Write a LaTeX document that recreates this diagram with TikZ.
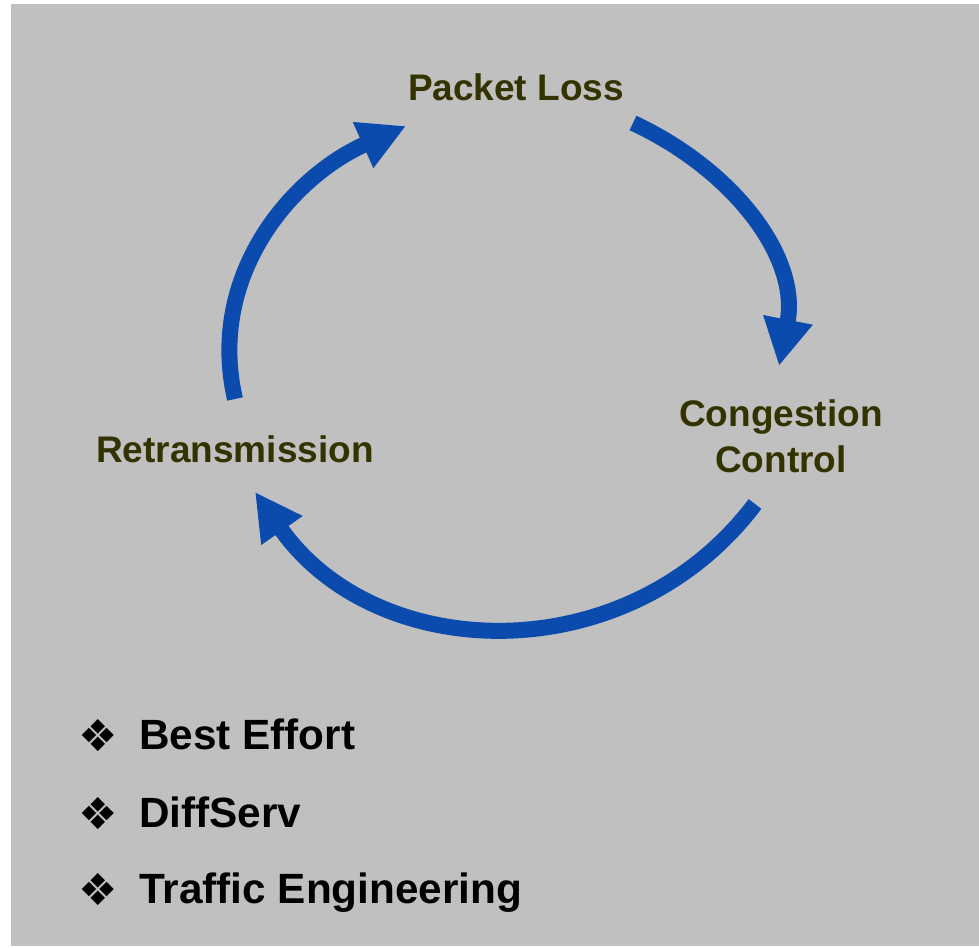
\documentclass[tikz,border=0pt]{standalone}
\usepackage{fontspec}
\setmainfont{Liberation Sans}
\newfontfamily\dingfont{DejaVu Sans}
\usetikzlibrary{arrows.meta}
\definecolor{slidegrey}{RGB}{192,192,192}
\definecolor{olivetext}{RGB}{51,51,0}
\definecolor{cycblue}{RGB}{11,75,173}

\begin{document}
\begin{tikzpicture}[
    x=1pt, y=1pt,
    stage/.style={text=olivetext, inner sep=0pt, align=center,
        font=\fontsize{37}{46}\selectfont\bfseries},
    turn/.style={line width=16pt, draw=cycblue,
        -{Triangle[length=47pt, width=47pt]}},
    entry/.style={anchor=base west, inner sep=0pt,
        font=\fontsize{42.3}{50}\selectfont\bfseries},
    dingbat/.style={inner sep=0pt, font=\dingfont\fontsize{44}{50}\selectfont}
]
    \useasboundingbox (0,0) rectangle (979,947);
    \fill[slidegrey] (11,1) rectangle (979,943);

    % the three stages
    \node[stage, anchor=base] (loss) at (516,846) {Packet Loss};
    \node[stage, anchor=base] (ctrl) at (781,474) {Congestion\\Control};
    \node[stage, anchor=base] (retr) at (235,484) {Retransmission};

    % arrow ends
    \coordinate (lossOut) at (633,824);
    \coordinate (ctrlIn) at (779,581);
    \coordinate (ctrlOut) at (755,443);
    \coordinate (retrIn) at (255,455);
    \coordinate (retrOut) at (235,548);
    \coordinate (lossIn) at (406,821);

    \draw[turn] (lossOut) to[out=-25, in=79] (ctrlIn);
    \draw[turn] (ctrlOut) to[out=-127, in=-55, looseness=1.08] (retrIn);
    \draw[turn] (retrOut) to[out=103, in=204] (lossIn);

    % list below
    \node[dingbat] (d1) at (98,211) {❖};
    \node[entry] (e1) at (139,197) {Best Effort};
    \node[dingbat] (d2) at (98,133) {❖};
    \node[entry] (e2) at (139,119) {DiffServ};
    \node[dingbat] (d3) at (98,57) {❖};
    \node[entry] (e3) at (139,43) {Traffic Engineering};
\end{tikzpicture}
\end{document}
